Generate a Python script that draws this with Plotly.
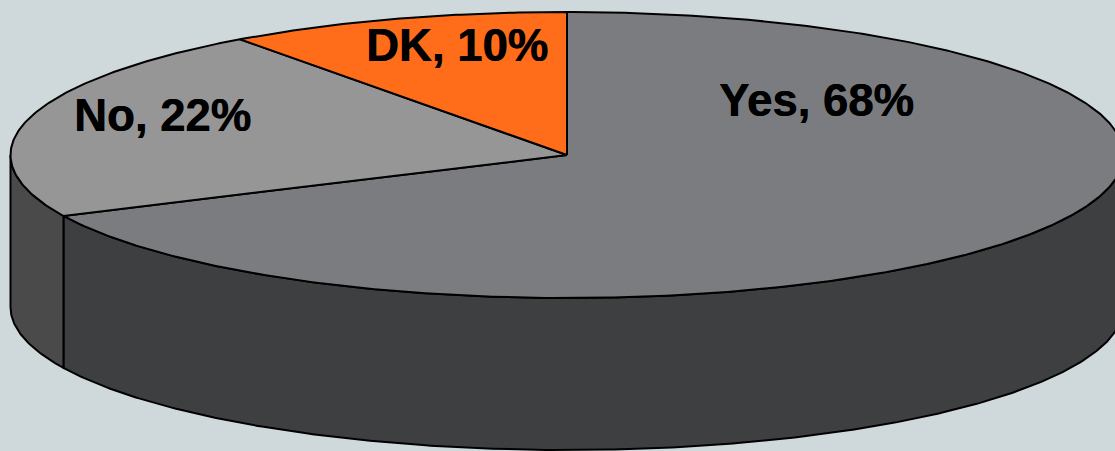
import numpy as np
import plotly.graph_objects as go

# Survey answers, in clockwise order from twelve o'clock
categories = ["Yes", "No", "DK"]
shares = [68, 22, 10]
label_x = [816, 162.5, 457]
label_y = [100.5, 115, 45]

top_colors = {"Yes": "#7b7c80", "No": "#969696", "DK": "#ff6c1a"}
wall_colors = {"Yes": "#3e3f41", "No": "#4a4a4b", "DK": "#3e3f41"}
BACKGROUND = "#cfd8da"
OUTLINE = dict(color="#000000", width=2)

# Tilted disc geometry, in axis units
CX, CY = 567, 155
RX, RY = 556.5, 143
DEPTH = 152


def rim(start, end, drop=0.0):
    """Points on the rim between two clockwise angles (degrees from the top)."""
    count = max(2, int(abs(end - start) * 2) + 1)
    theta = np.radians(np.linspace(start, end, count))
    return CX + RX * np.sin(theta), CY - RY * np.cos(theta) + drop


edges = np.concatenate([[0], np.cumsum(shares)]) / sum(shares) * 360
fig = go.Figure()


def add_polygon(xs, ys, fill):
    fig.add_trace(go.Scatter(
        x=xs, y=ys, mode="lines", fill="toself", fillcolor=fill,
        line=OUTLINE, hoverinfo="skip", showlegend=False,
    ))


# Side wall: only the part of each slice on the near half of the disc shows
for name, a, b in zip(categories, edges[:-1], edges[1:]):
    start, end = max(a, 90.0), min(b, 270.0)
    if end <= start:
        continue
    top_x, top_y = rim(start, end)
    low_x, low_y = rim(end, start, DEPTH)
    add_polygon(np.r_[top_x, low_x, top_x[0]], np.r_[top_y, low_y, top_y[0]], wall_colors[name])

# Top face: one wedge per category
for name, a, b in zip(categories, edges[:-1], edges[1:]):
    arc_x, arc_y = rim(a, b)
    add_polygon(np.r_[CX, arc_x, CX], np.r_[CY, arc_y, CY], top_colors[name])

for name, share, x, y in zip(categories, shares, label_x, label_y):
    fig.add_annotation(
        x=x, y=y, text=f"<b>{name}, {share}%</b>", showarrow=False,
        font=dict(family="Liberation Sans, Arial, sans-serif", size=45.5, color="#000000",
                  shadow="0.6px 0 0 #000000"),
    )

fig.update_xaxes(range=[0, 1115], visible=False, fixedrange=True)
fig.update_yaxes(range=[451, 0], visible=False, fixedrange=True)
fig.update_layout(
    width=1115, height=451, margin=dict(l=0, r=0, t=0, b=0),
    paper_bgcolor=BACKGROUND, plot_bgcolor=BACKGROUND, showlegend=False,
)

fig.write_html("out.html", config={"displayModeBar": False})
